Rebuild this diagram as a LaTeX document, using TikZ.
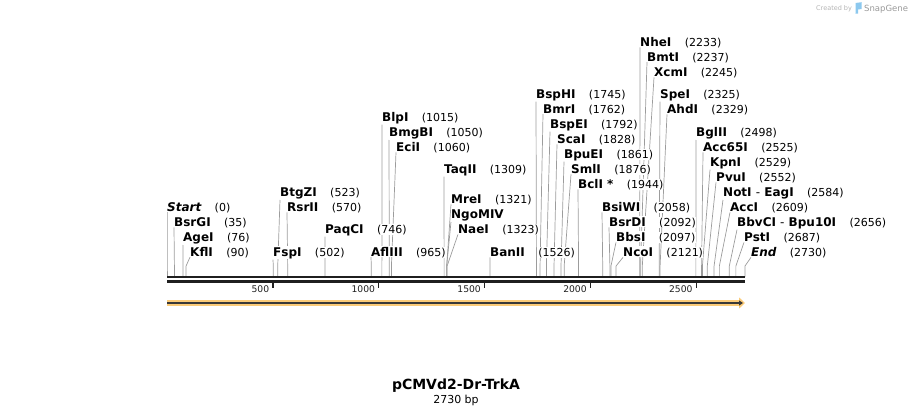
\documentclass[tikz,border=0pt]{standalone}
\usepackage{fontspec}
\setmainfont{DejaVu Sans}
\usetikzlibrary{arrows.meta,backgrounds,positioning}

\definecolor{leadergray}{HTML}{9C9C9C}
\definecolor{featorange}{HTML}{FBCB78}
\definecolor{featdark}{HTML}{383838}
\definecolor{creditgray}{HTML}{B4B4B4}
\definecolor{snapblue}{HTML}{8CC8EE}

\tikzset{
	enzyme/.style = {anchor = base west, inner xsep = 0pt, inner ysep = 1pt, fill = white,
		font = \fontsize{12}{14}\selectfont\bfseries},
	cutpos/.style = {anchor = base west, inner xsep = 0pt, inner ysep = 1pt, fill = white,
		font = \fontsize{11}{13}\selectfont},
	leader/.style = {leadergray, line width = 0.7pt},
	rulerline/.style = {black!88, line width = 2.2pt},
	rulertick/.style = {black!88, line width = 1.5pt},
	ticklabel/.style = {anchor = base east, inner sep = 0pt, xshift = -3pt, yshift = -4.3pt,
		font = \fontsize{9.2}{11}\selectfont},
	credit/.style = {creditgray, inner sep = 0pt, anchor = base west}
}

\begin{document}
\begin{tikzpicture}[x = 1pt, y = -1pt]
	%	frame
	\useasboundingbox (0, 0) rectangle (913, 415);
	
	%	ruler setup
	\def\xa{167}
	\def\xb{745}
	\def\bp{0.211722}
	
	%	ruler
	\draw[rulerline] (\xa, 277.3) -- (\xb, 277.3);
	\draw[rulerline] (\xa, 281.4) -- (\xb, 281.4);
	\foreach \t in {500, 1000, ..., 2500}
		\draw[rulertick] ({\xa + \t*\bp}, 282) -- ++(0, 6) node[ticklabel]{\t};
	
	%	feature arrow
	\coordinate (featL) at (\xa, 303);
	\coordinate (featR) at (\xb, 303);
	\draw[featorange, line width = 5.4pt, -{Triangle[length = 6pt, width = 11pt]}] (featL) -- (featR);
	\draw[featdark, line width = 1.4pt, -{Triangle[length = 4pt, width = 5pt]}] (featL) -- ([xshift = -2pt]featR);
	
	%	enzymes: name / text / position / label x / label y
	\foreach \id/\txt/\num/\lx/\ly in {
		Start/{\itshape Start}/0/167/207, BsrGI/BsrGI/35/174/222, AgeI/AgeI/76/183/237,
		KflI/KflI/90/190/252, BtgZI/BtgZI/523/280/192, RsrII/RsrII/570/287/207,
		FspI/FspI/502/273/252, PaqCI/PaqCI/746/325/229, AflIII/AflIII/965/371/252,
		BlpI/BlpI/1015/382/117, BmgBI/BmgBI/1050/389/132, EciI/EciI/1060/396/147,
		TaqII/TaqII/1309/444/169, MreI/MreI/1321/451/199, NaeI/NaeI/1323/458/229,
		BanII/BanII/1526/490/252, BspHI/BspHI/1745/536/94, BmrI/BmrI/1762/543/109,
		BspEI/BspEI/1792/550/124, ScaI/ScaI/1828/557/139, BpuEI/BpuEI/1861/564/154,
		SmlI/SmlI/1876/571/169, BclI/{BclI *}/1944/578/184, BsiWI/BsiWI/2058/602/207,
		BsrDI/BsrDI/2092/609/222, BbsI/BbsI/2097/616/237, NcoI/NcoI/2121/623/252,
		NheI/NheI/2233/640/42, BmtI/BmtI/2237/647/57, XcmI/XcmI/2245/654/72,
		SpeI/SpeI/2325/660/94, AhdI/AhdI/2329/667/109, BglII/BglII/2498/696/132,
		Acc65I/Acc65I/2525/703/147, KpnI/KpnI/2529/710/162, PvuI/PvuI/2552/716/177,
		NotI/{NotI {\mdseries -} EagI}/2584/723/192, AccI/AccI/2609/730/207,
		BbvCI/{BbvCI {\mdseries -} Bpu10I}/2656/737/222, PstI/PstI/2687/744/237,
		End/{\itshape End}/2730/751/252}
	{
		\node[enzyme] (\id) at (\lx, \ly + 4) {\txt};
		\node[cutpos] (\id-pos) at ([xshift = 13pt]\id.base east) {(\num)};
		\coordinate (\id-cut) at ({\xa + \num*\bp}, 277);
		\begin{pgfonlayer}{background}
			\draw[leader] (\id.south west) -- ([yshift = 11pt]\id-cut) -- (\id-cut);
		\end{pgfonlayer}
	}
	
	%	NgoMIV shares the MreI site
	\node[enzyme] (NgoMIV) at (451, 218) {NgoMIV};
	\begin{pgfonlayer}{background}
		\draw[leader] (NgoMIV.south west) -- ([yshift = 11pt]MreI-cut) -- (MreI-cut);
	\end{pgfonlayer}
	
	%	title
	\node[anchor = base, inner sep = 0pt, font = \fontsize{14}{16}\selectfont\bfseries] (plasmid) at (456, 389) {pCMVd2-Dr-TrkA};
	\node[anchor = base, inner sep = 0pt, font = \fontsize{11}{13}\selectfont] (length) at (456, 403) {2730 bp};
	
	%	credit
	\node[credit, font = \fontsize{6.5}{8}\selectfont] (created) at (816, 10.5) {Created by};
	\fill[snapblue] (855.5, 3) -- (861.5, 2.2) -- (861.5, 9) -- (858, 9.5) -- (858, 13.5) -- (855.5, 13.8) -- cycle;
	\node[credit, font = \fontsize{8.5}{10}\selectfont, black!40] (snapgene) at (864, 11) {SnapGene};
\end{tikzpicture}
\end{document}
